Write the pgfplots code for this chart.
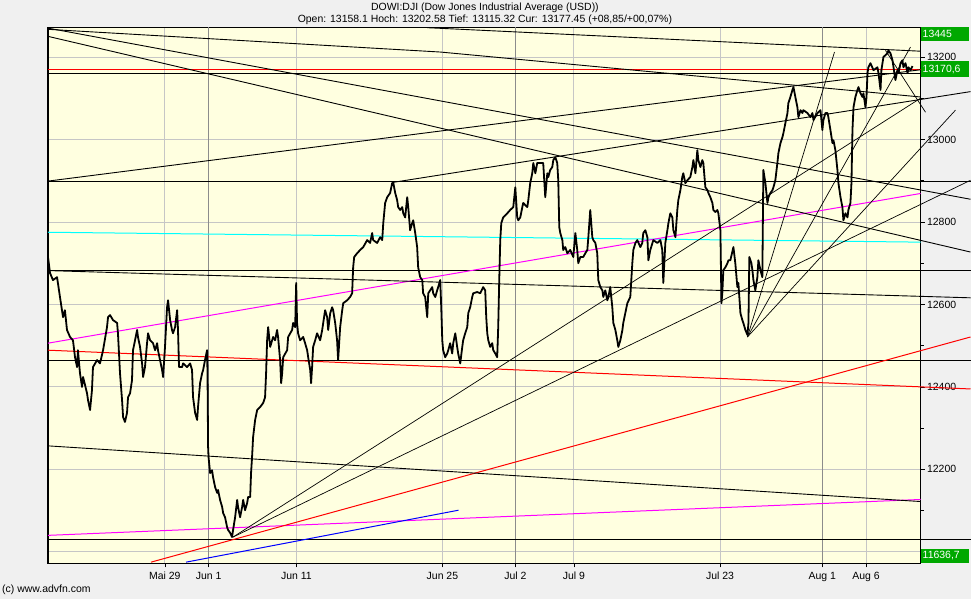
\documentclass[border=0pt]{standalone}
\usepackage{fontspec}
\setmainfont{Liberation Sans}
\usepackage{pgfplots}
\usepackage{pgfplotstable}
\pgfplotsset{compat=1.18}
\definecolor{plotbg}{HTML}{FFFFE0}
\definecolor{pagebg}{HTML}{F0F0F0}
\definecolor{lblgreen}{HTML}{00A800}
\definecolor{mag}{HTML}{FF00FF}
\definecolor{cyn}{HTML}{00FFFF}
\definecolor{rd}{HTML}{FF0000}
\definecolor{bl}{HTML}{0000FF}

\pgfplotstableread{
x y
0.00 12715
0.14 12676
0.34 12659
0.62 12666
0.82 12618
1.03 12569
1.16 12586
1.30 12538
1.51 12521
1.71 12513
1.85 12472
1.99 12448
2.05 12489
2.19 12433
2.33 12400
2.40 12424
2.67 12385
2.74 12368
2.88 12344
3.01 12392
3.08 12448
3.36 12465
3.56 12457
3.77 12489
4.04 12545
4.11 12569
4.25 12574
4.45 12562
4.73 12555
4.79 12530
4.93 12433
5.07 12368
5.14 12327
5.27 12315
5.41 12337
5.48 12375
5.62 12385
5.75 12416
5.82 12489
5.96 12513
6.10 12538
6.16 12521
6.30 12497
6.44 12457
6.51 12424
6.64 12448
6.78 12506
6.85 12530
6.99 12513
7.19 12506
7.33 12489
7.47 12506
7.53 12489
7.67 12465
7.81 12441
7.88 12424
8.01 12497
8.15 12593
8.22 12610
8.36 12562
8.49 12538
8.56 12530
8.70 12545
8.84 12586
8.90 12538
8.97 12448
9.18 12448
9.25 12457
9.52 12448
9.73 12457
9.86 12441
9.93 12375
10.07 12337
10.21 12320
10.27 12351
10.41 12409
10.55 12433
10.62 12441
10.75 12465
10.89 12489
10.92 12433
10.96 12254
10.99 12230
11.10 12191
11.23 12198
11.30 12181
11.44 12157
11.58 12143
11.64 12150
11.78 12126
11.92 12109
11.99 12094
12.12 12084
12.26 12060
12.33 12053
12.47 12046
12.60 12036
12.67 12053
12.81 12084
12.95 12126
13.01 12109
13.15 12084
13.29 12109
13.36 12126
13.49 12101
13.63 12118
13.70 12133
13.84 12133
13.90 12191
13.97 12230
14.04 12278
14.18 12320
14.32 12344
14.52 12351
14.73 12361
14.86 12375
14.93 12433
15.00 12513
15.07 12545
15.21 12497
15.41 12521
15.55 12513
15.68 12538
15.75 12521
15.89 12465
15.96 12409
16.03 12433
16.10 12472
16.37 12489
16.44 12521
16.58 12530
16.71 12538
16.78 12555
16.92 12545
16.99 12652
17.05 12555
17.12 12530
17.26 12513
17.47 12521
17.60 12506
17.74 12489
17.81 12472
17.95 12441
18.01 12409
18.08 12448
18.15 12497
18.29 12513
18.42 12530
18.63 12513
18.77 12538
18.84 12555
18.97 12586
19.11 12569
19.18 12538
19.32 12579
19.45 12593
19.52 12586
19.66 12555
19.79 12513
19.86 12465
20.00 12545
20.14 12586
20.21 12603
20.48 12610
20.68 12618
20.82 12627
20.89 12690
20.96 12715
21.16 12724
21.37 12732
21.58 12739
21.85 12756
22.05 12749
22.19 12773
22.26 12756
22.53 12749
22.74 12763
22.88 12756
22.95 12797
23.08 12846
23.22 12860
23.42 12870
23.56 12894
23.63 12896
23.77 12870
23.90 12853
23.97 12836
24.11 12829
24.25 12836
24.32 12821
24.45 12811
24.59 12860
24.66 12836
24.79 12780
24.93 12797
25.00 12804
25.14 12773
25.27 12739
25.34 12690
25.48 12666
25.62 12659
25.68 12627
25.82 12618
25.96 12569
26.03 12627
26.16 12634
26.30 12642
26.37 12627
26.51 12618
26.64 12634
26.71 12642
26.85 12659
26.92 12593
26.99 12513
27.05 12489
27.19 12472
27.33 12481
27.40 12489
27.53 12506
27.67 12481
27.74 12506
27.88 12530
28.01 12497
28.08 12481
28.22 12457
28.36 12497
28.42 12513
28.56 12530
28.70 12545
28.77 12579
28.90 12593
29.04 12618
29.11 12627
29.38 12630
29.59 12627
29.79 12642
29.93 12634
30.00 12569
30.07 12530
30.14 12513
30.27 12497
30.41 12506
30.48 12489
30.62 12481
30.75 12472
30.82 12545
30.89 12659
30.96 12756
31.03 12797
31.16 12811
31.44 12821
31.64 12829
31.85 12836
31.99 12884
32.12 12811
32.19 12804
32.33 12811
32.47 12836
32.53 12846
32.81 12836
32.88 12853
33.01 12894
33.15 12918
33.22 12943
33.36 12918
33.49 12943
33.90 12943
34.04 12860
34.18 12918
34.25 12909
34.38 12926
34.52 12933
34.59 12950
34.73 12957
34.86 12943
34.93 12901
35.00 12787
35.07 12773
35.21 12756
35.27 12732
35.41 12739
35.55 12724
35.75 12732
35.96 12715
36.10 12773
36.23 12732
36.30 12700
36.44 12715
36.64 12715
36.78 12724
36.92 12732
36.99 12763
37.12 12829
37.26 12763
37.33 12756
37.47 12749
37.60 12724
37.67 12659
37.81 12642
37.95 12634
38.01 12618
38.15 12634
38.29 12610
38.36 12618
38.49 12642
38.63 12593
38.70 12555
38.84 12538
38.97 12513
39.04 12497
39.18 12513
39.32 12538
39.38 12555
39.52 12579
39.66 12603
39.86 12618
40.00 12700
40.07 12732
40.21 12749
40.34 12756
40.55 12739
40.68 12749
40.75 12773
40.89 12780
41.03 12763
41.10 12707
41.23 12732
41.44 12756
41.71 12749
41.92 12756
42.05 12732
42.12 12652
42.26 12749
42.40 12780
42.47 12797
42.60 12821
42.74 12811
42.81 12780
42.95 12763
43.08 12829
43.15 12853
43.29 12877
43.42 12909
43.49 12918
43.63 12894
43.77 12901
43.97 12909
44.11 12933
44.18 12950
44.32 12918
44.45 12974
44.52 12950
44.66 12933
44.79 12950
44.86 12943
45.00 12884
45.14 12877
45.21 12870
45.34 12860
45.48 12846
45.55 12829
45.68 12824
45.82 12829
45.89 12821
46.03 12780
46.10 12603
46.16 12627
46.23 12683
46.37 12690
46.51 12700
46.58 12707
46.71 12707
46.92 12739
47.05 12700
47.19 12642
47.26 12652
47.40 12579
47.53 12562
47.60 12555
47.74 12538
47.88 12526
47.95 12555
48.01 12715
48.15 12700
48.22 12683
48.29 12659
48.42 12634
48.56 12666
48.63 12707
48.77 12683
48.90 12666
48.97 12926
49.11 12894
49.25 12846
49.32 12860
49.45 12870
49.59 12877
49.66 12884
49.79 12901
49.93 12943
50.00 12967
50.14 12991
50.27 13005
50.34 13015
50.48 13040
50.62 13064
50.68 13088
50.82 13103
50.96 13120
51.03 13127
51.16 13103
51.30 13078
51.37 13054
51.51 13071
51.64 13064
51.71 13071
51.99 13064
52.19 13054
52.33 13064
52.40 13047
52.67 13064
52.88 13071
53.01 13023
53.08 13047
53.22 13064
53.36 13064
53.42 13054
53.56 13023
53.70 12991
53.77 12998
53.90 12974
54.04 12926
54.11 12894
54.25 12860
54.38 12836
54.45 12804
54.59 12821
54.73 12811
54.79 12829
54.93 12846
55.00 12894
55.07 13023
55.14 13078
55.27 13103
55.41 13120
55.48 13127
55.62 13112
55.75 13103
55.82 13112
55.96 13078
56.03 13103
56.10 13161
56.16 13175
56.30 13185
56.51 13168
56.78 13175
56.85 13161
56.99 13120
57.05 13168
57.19 13200
57.47 13209
57.53 13216
57.67 13209
57.81 13192
57.88 13175
58.01 13144
58.15 13168
58.22 13161
58.36 13185
58.49 13192
58.56 13175
58.70 13185
58.84 13161
58.90 13175
59.04 13168
59.18 13178
}\price

\begin{document}
\begin{tikzpicture}
\fill[pagebg] (0,0) rectangle (971bp,599bp);
\node[font=\fontsize{10.5}{12}\selectfont] at (485bp,591bp) {DOWI:DJI (Dow Jones Industrial Average (USD))};
\node[font=\fontsize{10.5}{12}\selectfont] at (485bp,579bp) {Open: 13158.1 Hoch: 13202.58 Tief: 13115.32 Cur: 13177.45 (+08,85/+00,07\%)};
\node[anchor=west,font=\fontsize{10.5}{12}\selectfont,inner sep=0pt] at (2bp,9bp) {(c) www.advfn.com};
\begin{axis}[
  at={(48bp,35.7bp)}, anchor=south west,
  scale only axis, width=872.7bp, height=536bp,
  xmin=0, xmax=59.73, ymin=11972, ymax=13271.5,
  clip=false,
  scaled y ticks=false, scaled x ticks=false,
  axis background/.style={fill=plotbg},
  axis line style={black, line width=1.2bp},
  xtick={8,17,27,36,46,56},
  xticklabels={Mai 29,Jun 11,Jun 25,Jul 9,Jul 23,Aug 6},
  extra x ticks={11,32,53},
  extra x tick labels={Jun 1,Jul 2,Aug 1},
  extra x tick style={grid=major, major grid style={gray!90, line width=0.9bp}},
  xtick pos=lower, ytick pos=right, yticklabel pos=right,
  tick align=outside, major tick length=4bp, minor tick length=3bp,
  tick style={black, line width=0.7bp},
  ytick={12000,12200,12400,12600,12800,13000,13200},
  yticklabels={,12200,12400,12600,12800,13000,13200},
  minor y tick num=1,
  grid=major, major grid style={gray!45, line width=0.8bp},
  ticklabel style={font=\fontsize{10.5}{12}\selectfont},
  /pgf/number format/assume math mode=true,
  yticklabel style={anchor=west, xshift=-1bp},
  xticklabel style={yshift=-1bp},
]
% horizontal lines
\addplot[rd, line width=1bp] coordinates {(0,13170) (59.73,13170)};
\addplot[black, line width=1bp] coordinates {(0,13160) (59.73,13160)};
\addplot[black, line width=1bp] coordinates {(0,12898) (63.15,12898)};
\addplot[black, line width=1bp] coordinates {(0,12683) (63.15,12683)};
\addplot[black, line width=1bp] coordinates {(0,12465) (63.15,12465)};
\addplot[black, line width=1bp] coordinates {(0,12030) (63.15,12030)};
% coloured trend lines
\addplot[cyn, line width=1bp] coordinates {(0,12775) (59.73,12751)};
\addplot[mag, line width=1bp] coordinates {(0,12506) (59.73,12869)};
\addplot[mag, line width=1bp] coordinates {(0,12040) (59.73,12127)};
\addplot[rd, line width=1bp] coordinates {(0,12489) (63.15,12395)};
\addplot[rd, line width=1bp] coordinates {(7.05,11975) (63.15,12521)};
\addplot[bl, line width=1bp] coordinates {(9.45,11975) (28.1,12101)};
% black trend lines
\addplot[black, line width=0.9bp] coordinates {(0,13267) (26.85,13212) (59.73,13103)};
\addplot[black, line width=0.9bp] coordinates {(0,13250) (63.15,12727)};
\addplot[black, line width=0.9bp] coordinates {(0,13270) (63.15,12855)};
\addplot[black, line width=0.9bp] coordinates {(25.96,13271) (59.73,13214)};
\addplot[black, line width=0.9bp] coordinates {(0,12899) (59.73,13169)};
\addplot[black, line width=0.9bp] coordinates {(23.63,12896) (63.15,13116)};
\addplot[black, line width=0.9bp] coordinates {(0,12682) (63.15,12616)};
\addplot[black, line width=0.9bp] coordinates {(0,12257) (59.73,12122)};
\addplot[black, line width=0.7bp] coordinates {(12.67,12036) (59.73,13100)};
\addplot[black, line width=0.7bp] coordinates {(12.67,12036) (63.15,12901)};
\addplot[black, line width=0.7bp] coordinates {(47.88,12521) (59.04,13224)};
\addplot[black, line width=0.7bp] coordinates {(47.88,12521) (62.12,13071)};
\addplot[black, line width=0.7bp] coordinates {(47.88,12521) (53.84,13212)};
\addplot[black, line width=0.7bp] coordinates {(57.33,13216) (60.07,13066)};
% price
\addplot[black, line width=1.8bp, line join=round] table[x=x,y=y] {\price};
% price labels
\node[anchor=west, fill=lblgreen, text=white, inner xsep=2bp, inner ysep=0pt, minimum height=14bp, text width=44bp, align=left, font=\fontsize{10.5}{12}\selectfont] at (axis cs:59.73,13256) {13445};
\node[anchor=west, fill=lblgreen, text=white, inner xsep=2bp, inner ysep=0pt, minimum height=16bp, text width=44bp, align=left, font=\fontsize{10.5}{12}\selectfont] at (axis cs:59.73,13170) {13170,6};
\node[anchor=west, fill=lblgreen, text=white, inner xsep=2bp, inner ysep=0pt, minimum height=14bp, text width=44bp, align=left, font=\fontsize{10.5}{12}\selectfont] at (axis cs:59.73,11991) {11636,7};
\end{axis}
\end{tikzpicture}
\end{document}
